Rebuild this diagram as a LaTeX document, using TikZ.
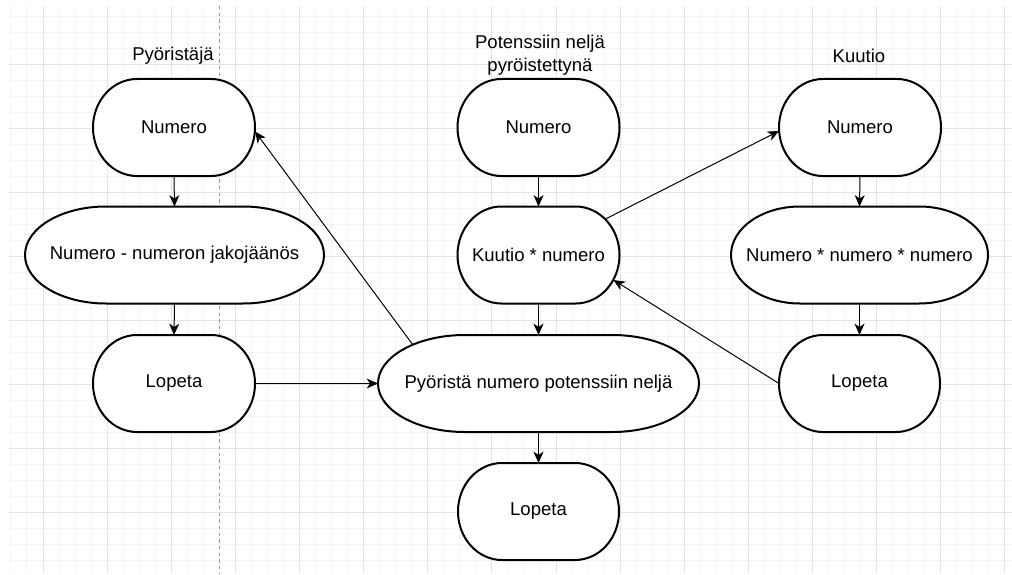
\documentclass[tikz,border=0pt]{standalone}
\usepackage{fontspec}
\setmainfont{Liberation Sans}
\usetikzlibrary{calc,arrows.meta}
\pgfdeclarelayer{bg}
\pgfdeclarelayer{mid}
\pgfsetlayers{bg,mid,main}

% Stadium outline around a named node: #1 node, #2 horizontal corner radius
\newcommand\stadiumoutline[2]{%
  \draw[outline] ($(#1.north west)+(#2,0)$) -- ($(#1.north east)+(-#2,0)$)
    arc[start angle=-90,end angle=90,x radius=#2,y radius=48.5]
    -- ($(#1.south west)+(#2,0)$)
    arc[start angle=90,end angle=270,x radius=#2,y radius=48.5] -- cycle;}

\begin{document}
\begin{tikzpicture}[x=0.75pt,y=-0.75pt,
  every node/.style={font=\fontsize{13.9}{17.25}\selectfont},
  term/.style={rectangle,draw=none,inner sep=0pt,outer sep=0pt,
    minimum height=72.75pt,minimum width={#1*0.75pt}},
  outline/.style={draw=black,fill=white,line width=1.5pt},
  conn/.style={draw=black,line width=0.75pt,
    -{Stealth[length=8.5pt,width=7.5pt,inset=2.5pt]}},
  minorgrid/.style={draw=black!4,line width=0.75pt},
  majorgrid/.style={draw=black!11,line width=0.75pt},
  divider/.style={draw=black!40,line width=0.75pt,dash pattern=on 2.5pt off 2.5pt}]

\useasboundingbox (0,0) rectangle (1012,574);

\begin{pgfonlayer}{bg}
  \fill[white] (0,0) rectangle (1012,574);
  % minor grid
  \foreach \k in {-2,...,60}
    \draw[minorgrid] ({43+16.033*\k},6) -- ({43+16.033*\k},574);
  \foreach \k in {1,...,35}
    \draw[minorgrid] (9,{16.025*\k}) -- (1012,{16.025*\k});
  % major grid
  \foreach \k in {0,...,15}
    \draw[majorgrid] ({43+64.13*\k},6) -- ({43+64.13*\k},574);
  \foreach \k in {1,...,8}
    \draw[majorgrid] (9,{64.1*\k}) -- (1012,{64.1*\k});
  % page divider
  \draw[divider] (219,6) -- (219,574);
\end{pgfonlayer}

% column titles
\node (tL) at (173,56) {Pyöristäjä};
\node[align=center] (tM) at (540,55.5) {Potenssiin neljä\\pyröistettynä};
\node (tR) at (859,56) {Kuutio};

% left column
\node[term=162] (L1) at (174,127.5) {Numero};
\node[term=299] (L2) at (174.5,255) {Numero - numeron jakojäänös};
\node[term=162] (L3) at (174,383.5) {Lopeta};

% middle column
\node[term=162] (M1) at (538.5,127.5) {Numero};
\node[term=162] (M2) at (538.5,255) {Kuutio * numero};
\node[term=321] (M3) at (538.5,383.5) {Pyöristä numero potenssiin neljä};
\node[term=161] (M4) at (538.5,511.5) {Lopeta};

% right column
\node[term=162] (R1) at (860,127.5) {Numero};
\node[term=257] (R2) at (859.5,255) {Numero * numero * numero};
\node[term=161] (R3) at (859.5,383.5) {Lopeta};

\begin{pgfonlayer}{mid}
  \stadiumoutline{L1}{44}
  \stadiumoutline{L2}{81}
  \stadiumoutline{L3}{44}
  \stadiumoutline{M1}{44}
  \stadiumoutline{M2}{44}
  \stadiumoutline{M3}{87}
  \stadiumoutline{M4}{44}
  \stadiumoutline{R1}{44}
  \stadiumoutline{R2}{69}
  \stadiumoutline{R3}{44}
\end{pgfonlayer}

% connectors
\draw[conn] (L1.south) -- (L2.north);
\draw[conn] (L2.south) -- (L3.north);
\draw[conn] (L3.east) -- (M3.west);
\draw[conn] ($(M3.center)+(-125.5,-38.5)$) -- ($(L1.east)+(0,4)$);
\draw[conn] (M1.south) -- (M2.north);
\draw[conn] (M2.south) -- (M3.north);
\draw[conn] (M3.south) -- (M4.north);
\draw[conn] ($(M2.center)+(67,-36)$) -- ($(R1.west)+(0,3.5)$);
\draw[conn] (R3.west) -- ($(M2.center)+(75,25)$);
\draw[conn] (R1.south) -- (R2.north);
\draw[conn] (R2.south) -- (R3.north);
\end{tikzpicture}
\end{document}
